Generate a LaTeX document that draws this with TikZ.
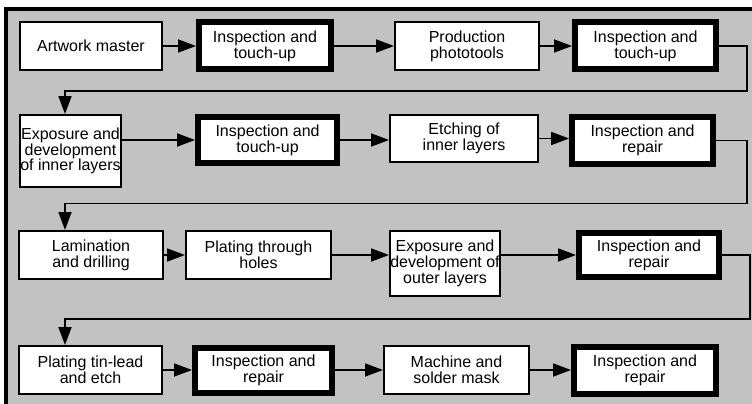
\documentclass[tikz,border=0pt]{standalone}
\usepackage{fontspec}
\setmainfont{Liberation Sans}
\usepackage{xcolor}
\usetikzlibrary{arrows.meta,positioning}

\begin{document}
\begin{tikzpicture}[
  x=1pt, y=-1pt,
  font=\fontsize{16}{15.8}\selectfont,
  stepbox/.style={draw, line width=1.6pt, fill=white, align=center, inner sep=0.5pt, minimum width=#1, minimum height=48.4pt},
  stepbox/.default=144.4pt,
  checkbox/.style={stepbox=#1, line width=6pt, minimum height=47pt},
  checkbox/.default=140pt,
  flow/.style={->, line width=1.8pt},
  >={Triangle[length=18pt,width=13pt]}]
\useasboundingbox (0,0) rectangle (752,404);
\fill[black!24] (8,11) rectangle (752,404);
\fill (4,7) rectangle (752,11);
\fill (4,7) rectangle (8,404);
\node[stepbox=142.4pt] (art) at (91,46) {Artwork master};
\node[checkbox=132pt, right=33pt of art] (insp1) {Inspection and\\touch-up};
\node[stepbox, right=60pt of insp1] (photo) {Production\\phototools};
\node[checkbox=141pt, right=32pt of photo] (insp2) {Inspection and\\touch-up};
\node[stepbox=101.4pt, minimum height=72.4pt, anchor=north] (expin) at (70.5,114) {Exposure and\\development\\of inner layers};
\node[checkbox=139pt, minimum height=46pt, right=73pt of expin.north east, anchor=north west] (insp3) {Inspection and\\touch-up};
\node[stepbox=148.4pt, minimum height=47.4pt, right=49pt of insp3.north east, anchor=north west] (etch) {Etching of\\inner layers};
\node[checkbox=141pt, right=30pt of etch.north east, anchor=north west] (rep1) {Inspection and\\repair};
\node[stepbox, anchor=north] (lam) at (91,230) {Lamination\\and drilling};
\node[stepbox=145.4pt, right=21pt of lam] (pth) {Plating through\\holes};
\node[stepbox=109.4pt, minimum height=65.4pt, right=57pt of pth.north east, anchor=north west] (expout) {Exposure and\\development of\\outer layers};
\node[checkbox=140pt, minimum height=44pt, right=75pt of expout.north east, anchor=north west] (rep2) {Inspection and\\repair};
\node[stepbox=143.4pt] (tin) at (90.5,370) {Plating tin-lead\\and etch};
\node[checkbox=137pt, minimum height=45pt, right=29pt of tin] (rep3) {Inspection and\\repair};
\node[stepbox=145.4pt, right=48pt of rep3] (mach) {Machine and\\solder mask};
\node[checkbox=142pt, right=41pt of mach] (rep4) {Inspection and\\repair};
\draw[flow] (art) -- (insp1); \draw[flow] (insp1) -- (photo); \draw[flow] (photo) -- (insp2);
\draw[flow] (insp2.east) -- ++(28,0) -- ++(0,45) -| ([xshift=-5.5pt]expin.north);
\draw[flow] (expin.east |- insp3.west) -- (insp3.west);
\draw[flow] (insp3.east) -- (insp3.east -| etch.west);
\draw[flow] (etch.east) -- (etch.east -| rep1.west);
\draw[flow] (rep1.east) -- ++(31,0) -- ++(0,63) -| ([xshift=-26pt]lam.north);
\draw[flow] (lam) -- (pth);
\draw[flow] (pth.east) -- (pth.east -| expout.west);
\draw[flow] (expout.east |- rep2.west) -- (rep2.west);
\draw[flow] (rep2.east) -- ++(28,0) -- ++(0,64) -| ([xshift=-25.5pt]tin.north);
\draw[flow] (tin) -- (rep3); \draw[flow] (rep3) -- (mach); \draw[flow] (mach) -- (rep4);
\end{tikzpicture}
\end{document}
